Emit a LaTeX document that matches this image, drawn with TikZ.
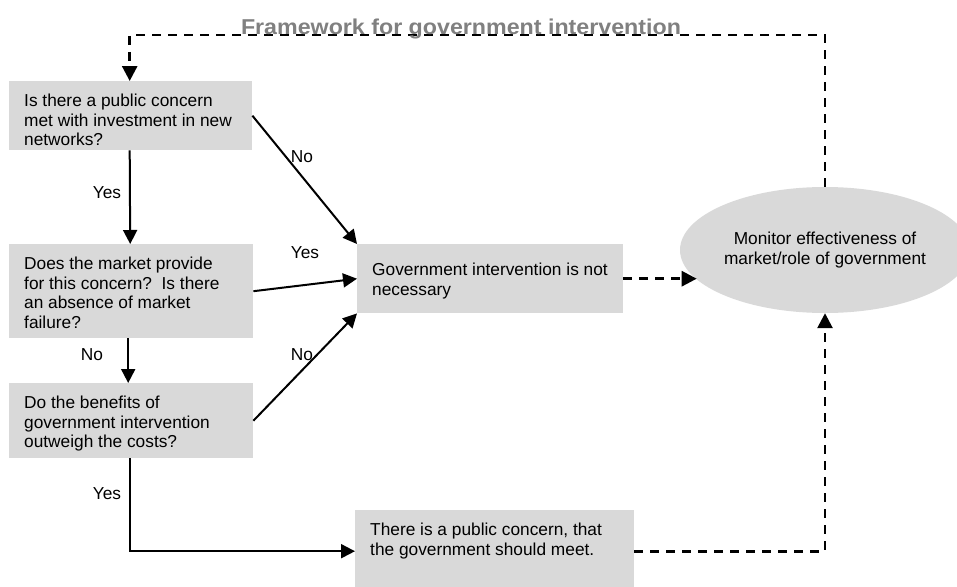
\documentclass[tikz,border=0pt]{standalone}
\usepackage{fontspec}
\usepackage{graphicx}
\setmainfont{Liberation Sans}
\usetikzlibrary{shapes.geometric,arrows.meta}
\definecolor{boxgray}{HTML}{D9D9D9}
\definecolor{titlegray}{HTML}{808080}
\tikzset{
  txt/.style={font=\fontsize{17.3pt}{19.8pt}\selectfont},
  qbox/.style={txt, fill=boxgray, anchor=north west, inner xsep=15pt, inner ysep=0pt, align=left},
  lbl/.style={txt, inner sep=0pt},
  arr/.style={line width=2pt, -{Triangle[length=14pt,width=14pt]}},
  darr/.style={line width=2.7pt, dash pattern=on 9pt off 7pt, -{Triangle[length=15pt,width=15pt]}},
}
\newcommand{\boxtext}[4]{\parbox[c][#2pt][t]{#1pt}{\rule{0pt}{#3pt}#4}}
\begin{document}
\begin{tikzpicture}[x=1pt,y=-1pt]
\useasboundingbox (0,0) rectangle (957,586);
\clip (0,0) rectangle (957,586);
% boxes
\node[qbox] (b1) at (9,81) {\boxtext{213}{69}{25}{Is there a public concern\\ met with investment in new\\ networks?}};
\node[qbox] (b2) at (9,244) {\boxtext{214}{94}{25}{Does the market provide\\ for this concern?\ \ Is there\\ an absence of market\\ failure?}};
\node[qbox] (b3) at (9,383) {\boxtext{214}{75}{25}{Do the benefits of\\ government intervention\\ outweigh the costs?}};
\node[qbox] (b4) at (357,244) {\boxtext{236}{69}{31}{Government intervention is not\\ necessary}};
\node[qbox] (b5) at (355,510) {\boxtext{249}{82}{25}{There is a public concern, that\\ the government should meet.}};
\node[txt, ellipse, fill=boxgray, minimum width=290pt, minimum height=126pt, inner sep=0pt, align=center] (ell) at (825,250) {Monitor effectiveness of\\ market/role of government};
% solid arrows
\draw[arr] ([xshift=-1pt]b1.south) -- ([xshift=-1pt]b2.north);
\draw[arr] ([xshift=-3pt]b2.south) -- ([xshift=-3pt]b3.north);
\draw[arr] ([xshift=-1pt]b3.south) |- (b5.west);
\draw[arr] (b1.east) -- (b4.north west);
\draw[arr] (b2.east) -- (b4.west);
\draw[arr] (b3.east) -- (b4.south west);
% dashed arrows
\coordinate (topy) at (0,35);
\draw[darr] (b4.east) -- (b4.east -| ell.193);
\draw[darr] (b5.east) -| (ell.south);
\draw[darr] (ell.north) |- ([xshift=-1pt]b1.north |- topy) -- ([xshift=-1pt]b1.north);
% labels
\node[lbl] (l1) at (107,193) {Yes};
\node[lbl] (l2) at (302,157) {No};
\node[lbl] (l3) at (305,253) {Yes};
\node[lbl] (l4) at (92,355) {No};
\node[lbl] (l5) at (302,355) {No};
\node[lbl] (l6) at (107,494) {Yes};
% title
\node[font=\bfseries\fontsize{21.5pt}{24pt}\selectfont, text=titlegray, anchor=base, inner sep=0pt] (ttl) at (461,35) {\scalebox{1.08}[1]{Framework for government intervention}};
\end{tikzpicture}
\end{document}
